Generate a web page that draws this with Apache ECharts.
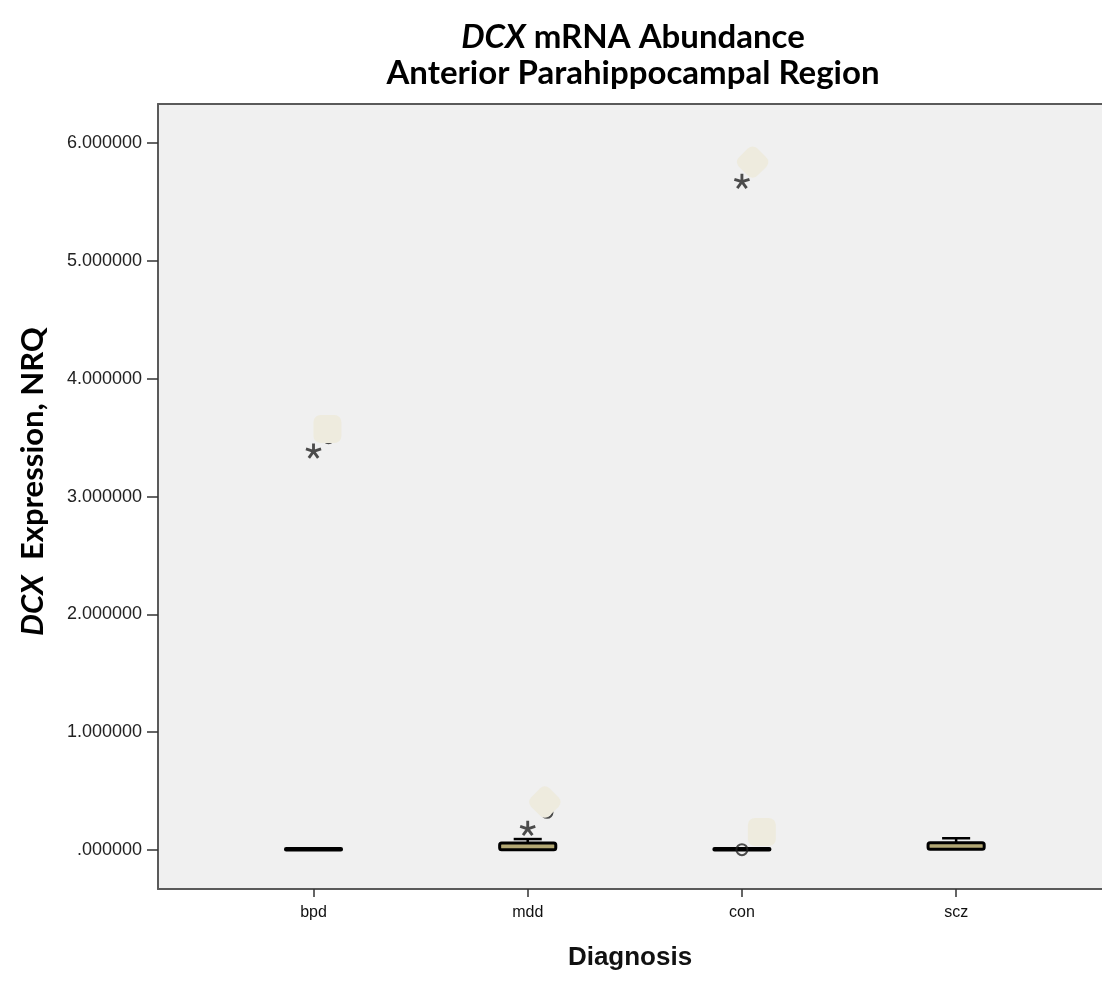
<!doctype html>
<html>
<head>
<meta charset="utf-8">
<title>DCX mRNA Abundance</title>
<script src="https://cdn.jsdelivr.net/npm/echarts@6/dist/echarts.min.js"></script>
<style>
  html, body { margin: 0; padding: 0; background: #fff; }
  #main { width: 1102px; height: 992px; }
</style>
</head>
<body>
<div id="main"></div>
<script>
// categories and their positions on the x scale
var categories = ['bpd', 'mdd', 'con', 'scz'];
var catPos = [1, 2, 3, 4];

// box statistics per group
var boxMin = [0.000, 0.000, 0.000, 0.002];
var boxQ1 = [0.000, 0.002, 0.000, 0.006];
var boxMedian = [0.004, 0.020, 0.005, 0.030];
var boxQ3 = [0.012, 0.060, 0.012, 0.062];
var boxMax = [0.012, 0.093, 0.012, 0.100];

// extreme values (asterisks) and outliers (circles)
var extremes = [[1, 3.387], [2, 0.183], [3, 5.676]];
var outliers = [[3, 0.003], [1.07, 3.50], [2.09, 0.32], [3.06, 5.80]];

// pale label patches sitting over the points
var squarePatches = [[1.065, 3.574], [3.093, 0.153]];
var diamondPatches = [[2.08, 0.407], [3.05, 5.84]];

var yTicks = [0, 1, 2, 3, 4, 5, 6];

var boxData = catPos.map(function (x, i) {
  return [x, boxMin[i], boxQ1[i], boxMedian[i], boxQ3[i], boxMax[i]];
});

var BOX_W = 0.262; // in x-axis units
var FRAME = { color: '#5a5a5a', width: 2 };
// five-armed asterisk
var starPath = 'path://M118,100 L118,0 L82,0 L82,100 Z' +
  ' M105.6,117.1 L200.7,86.2 L189.5,52 L94.4,82.9 Z' +
  ' M85.4,110.6 L144.2,191.5 L173.4,170.3 L114.6,89.4 Z' +
  ' M85.4,89.4 L26.6,170.3 L55.8,191.5 L114.6,110.6 Z' +
  ' M105.6,82.9 L10.5,52 L-0.7,86.2 L94.4,117.1 Z';

function renderBox(params, api) {
  var x = api.value(0);
  var pMin = api.coord([x, api.value(1)]);
  var pQ1 = api.coord([x, api.value(2)]);
  var pQ3 = api.coord([x, api.value(4)]);
  var pMax = api.coord([x, api.value(5)]);
  var half = api.size([BOX_W, 0])[0] / 2;
  var cap = half / 2;
  var line = { stroke: '#000', lineWidth: 2.5 };
  var children = [];
  if (pQ3[1] - pMax[1] > 1) {
    children.push({ type: 'line', shape: { x1: pMax[0], y1: pMax[1], x2: pQ3[0], y2: pQ3[1] }, style: line });
    children.push({ type: 'line', shape: { x1: pMax[0] - cap, y1: pMax[1], x2: pMax[0] + cap, y2: pMax[1] }, style: line });
  }
  if (pMin[1] - pQ1[1] > 1) {
    children.push({ type: 'line', shape: { x1: pMin[0], y1: pMin[1], x2: pQ1[0], y2: pQ1[1] }, style: line });
    children.push({ type: 'line', shape: { x1: pMin[0] - cap, y1: pMin[1], x2: pMin[0] + cap, y2: pMin[1] }, style: line });
  }
  children.push({
    type: 'rect',
    shape: { x: pQ1[0] - half, y: pQ3[1], width: half * 2, height: Math.max(pQ1[1] - pQ3[1], 1), r: 2 },
    style: { fill: '#b3a874', stroke: '#000', lineWidth: 3 }
  });
  return { type: 'group', children: children };
}

var chart = echarts.init(document.getElementById('main'));

chart.setOption({
  backgroundColor: '#fff',
  animation: false,
  title: {
    text: '{i|DCX} mRNA Abundance\nAnterior Parahippocampal Region',
    left: 628,
    top: 14,
    textAlign: 'center',
    textStyle: {
      fontFamily: 'Lato',
      fontWeight: 'bold',
      fontSize: 33,
      lineHeight: 36,
      color: '#000',
      rich: {
        i: { fontFamily: 'Lato', fontStyle: 'italic', fontWeight: 'bold', fontSize: 33, color: '#000' }
      }
    }
  },
  grid: {
    left: 158,
    right: 0,
    top: 104,
    bottom: 103,
    show: true,
    backgroundColor: '#f0f0f0',
    borderWidth: 0
  },
  xAxis: [{
    type: 'value',
    min: 0.274,
    max: 4.681,
    splitLine: { show: false },
    axisLine: { show: true, onZero: false, lineStyle: FRAME },
    axisTick: {
      show: true,
      length: 8,
      customValues: catPos,
      lineStyle: { color: '#333', width: 1.5 }
    },
    axisLabel: {
      customValues: catPos,
      margin: 16,
      fontFamily: 'Liberation Sans, Arial',
      fontSize: 16,
      color: '#111',
      formatter: function (v) { return categories[Math.round(v) - 1]; }
    },
    name: 'Diagnosis',
    nameLocation: 'middle',
    nameGap: 56,
    nameTextStyle: {
      fontFamily: 'Liberation Sans, Arial',
      fontWeight: 'bold',
      fontSize: 26,
      color: '#111'
    }
  }, {
    // top edge of the frame
    type: 'value',
    position: 'top',
    min: 0.274,
    max: 4.681,
    splitLine: { show: false },
    axisLine: { show: true, onZero: false, lineStyle: FRAME },
    axisTick: { show: false },
    axisLabel: { show: false }
  }],
  yAxis: {
    type: 'value',
    min: -0.331,
    max: 6.333,
    splitLine: { show: false },
    axisLine: { show: true, onZero: false, lineStyle: FRAME },
    axisTick: {
      show: true,
      length: 11,
      customValues: yTicks,
      lineStyle: { color: '#333', width: 1.5 }
    },
    axisLabel: {
      customValues: yTicks,
      margin: 16,
      fontFamily: 'Liberation Sans, Arial',
      fontSize: 18,
      color: '#222',
      formatter: function (v) { return v.toFixed(6).replace(/^0/, ''); }
    },
    name: '{i|DCX}  Expression, NRQ',
    nameLocation: 'middle',
    nameGap: 110,
    nameRotate: 90,
    nameTextStyle: {
      fontFamily: 'Lato',
      fontWeight: 'bold',
      fontSize: 31,
      color: '#000',
      padding: [0, 0, 0, 30],
      rich: {
        i: { fontFamily: 'Lato', fontStyle: 'italic', fontWeight: 'bold', fontSize: 31, color: '#000' }
      }
    }
  },
  series: [
    {
      type: 'custom',
      renderItem: renderBox,
      data: boxData,
      encode: { x: 0, y: [1, 2, 3, 4, 5] },
      z: 2
    },
    {
      type: 'scatter',
      data: outliers,
      symbol: 'circle',
      symbolSize: 11,
      itemStyle: { color: 'rgba(0,0,0,0)', borderColor: '#222', borderWidth: 2 },
      z: 3
    },
    {
      type: 'scatter',
      data: extremes,
      symbol: starPath,
      symbolKeepAspect: true,
      symbolSize: 16,
      itemStyle: { color: '#222' },
      z: 3
    },
    {
      type: 'scatter',
      data: squarePatches,
      symbol: 'roundRect',
      symbolSize: 28,
      itemStyle: { color: '#eeebde', opacity: 1 },
      z: 4
    },
    {
      type: 'scatter',
      data: diamondPatches,
      symbol: 'roundRect',
      symbolRotate: 45,
      symbolSize: 26,
      itemStyle: { color: '#eeebde', opacity: 1 },
      z: 4
    }
  ]
});
</script>
</body>
</html>
